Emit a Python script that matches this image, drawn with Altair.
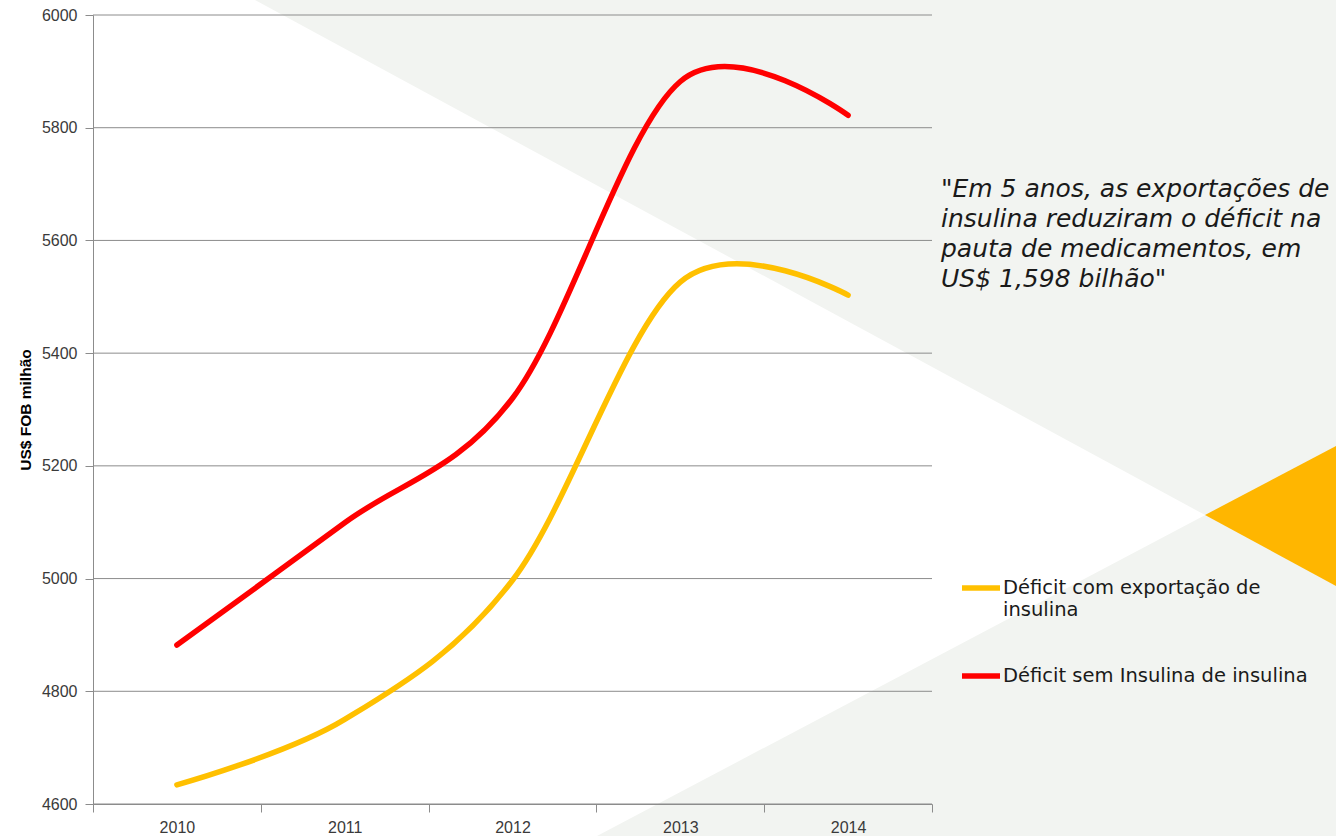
import altair as alt
import pandas as pd

years = ["2010", "2011", "2012", "2013", "2014"]
com_exportacao = [4634, 4750, 4997, 5526, 5503]
sem_insulina = [4882, 5099, 5320, 5882, 5822]
series_names = ["Déficit com exportação de insulina", "Déficit sem Insulina de insulina"]
series_colors = ["#ffc000", "#ff0000"]
y_ticks = [4600, 4800, 5000, 5200, 5400, 5600, 5800, 6000]
quote_lines = ['"Em 5 anos, as exportações de',
               'insulina reduziram o déficit na',
               'pauta de medicamentos, em',
               'US$ 1,598 bilhão"']

# decorative background triangles, in page pixels
bg_name = ["top", "top", "bottom", "bottom", "orange", "orange"]
bg_px = [255, 1336, 597, 1336, 1205, 1336]
bg_top = [0, 0, 836, 446, 515, 446]
bg_bottom = [0, 586, 836, 836, 515, 586]
bg_fill = ["#f2f4f1", "#f2f4f1", "#f2f4f1", "#f2f4f1", "#ffb600", "#ffb600"]

W, H = 839, 789
PL, PT = 93, 15

df = pd.DataFrame({
    "year": years * 2,
    "value": com_exportacao + sem_insulina,
    "series": [series_names[0]] * 5 + [series_names[1]] * 5,
})
bg = pd.DataFrame({"shape": bg_name, "px": bg_px, "top": bg_top,
                   "bottom": bg_bottom, "fill": bg_fill})
grid = pd.DataFrame({"v": y_ticks})
quote = pd.DataFrame({"t": ["\n".join(quote_lines)]})

bg_x = alt.Scale(domain=[0, 1336], range=[-PL, 1336 - PL])
bg_y = alt.Scale(domain=[0, 836], range=[-PT, 836 - PT])
background = alt.Chart(bg).mark_area(clip=False).encode(
    x=alt.X("px:Q", scale=bg_x, axis=None),
    y=alt.Y("top:Q", scale=bg_y, axis=None),
    y2="bottom:Q",
    detail="shape:N",
    color=alt.Color("fill:N", scale=None),
)

yscale = alt.Scale(domain=[4600, 6000], nice=False, zero=False)
xscale = alt.Scale(domain=years, paddingInner=0, paddingOuter=0)

y_axis = alt.Axis(orient="left", zindex=1, values=y_ticks, grid=False, format="d",
                  labelFontSize=16, labelFont="Liberation Sans",
                  labelColor="#3a3a3a", domainColor="#8c8c8c",
                  tickColor="#8c8c8c", tickSize=8, labelPadding=8,
                  titleFontSize=15.5, titleFont="Liberation Sans",
                  titleFontWeight="bold", titleColor="#000000",
                  titlePadding=8)

gridlines = alt.Chart(grid).mark_rule(color="#8c8c8c", strokeWidth=1).encode(
    y=alt.Y("v:Q", scale=yscale, title="US$ FOB milhão", axis=y_axis)
)

lines = alt.Chart(df).mark_line(
    interpolate="cardinal", strokeWidth=5.5, strokeCap="round", clip=False
).encode(
    x=alt.X("year:O", bandPosition=0.5, scale=xscale, title=None,
            axis=alt.Axis(orient="bottom", zindex=1, tickBand="extent", labelAngle=0,
                          labelFontSize=16, labelFont="Liberation Sans",
                          labelColor="#3a3a3a", domainColor="#8c8c8c",
                          tickColor="#8c8c8c", tickSize=8, labelPadding=7)),
    y=alt.Y("value:Q", scale=yscale, title="US$ FOB milhão", axis=y_axis),
    color=alt.Color("series:N", scale=alt.Scale(domain=series_names, range=series_colors),
                    legend=alt.Legend(
                        orient="none", legendX=959 - PL, legendY=566 - PT,
                        title=None, symbolType="stroke", symbolStrokeWidth=5.5,
                        symbolSize=1444, labelFontSize=19.5, labelFont="DejaVu Sans",
                        labelColor="#1a1a1a", labelLimit=500, labelOffset=0,
                        rowPadding=35, padding=0,
                        labelExpr="datum.label == 'Déficit com exportação de insulina' ? ['Déficit com exportação de', 'insulina'] : datum.label")),
)

quote_text = alt.Chart(quote).mark_text(
    align="left", baseline="alphabetic", font="DejaVu Sans", fontStyle="italic",
    fontSize=25, lineHeight=30, color="#1a1a1a", lineBreak="\n"
).encode(
    x=alt.value(941 - PL), y=alt.value(197 - PT), text="t:N"
)

main = alt.layer(gridlines, lines, quote_text)

chart = alt.layer(background, main).resolve_scale(
    x="independent", y="independent", color="independent"
).properties(
    width=W, height=H,
    autosize=alt.AutoSizeParams(type="none"),
    padding={"left": PL, "top": PT, "right": 1336 - PL - W, "bottom": 836 - PT - H},
).configure_view(stroke=None)

chart.save("out.html", embed_options={"renderer": "svg", "actions": False})
